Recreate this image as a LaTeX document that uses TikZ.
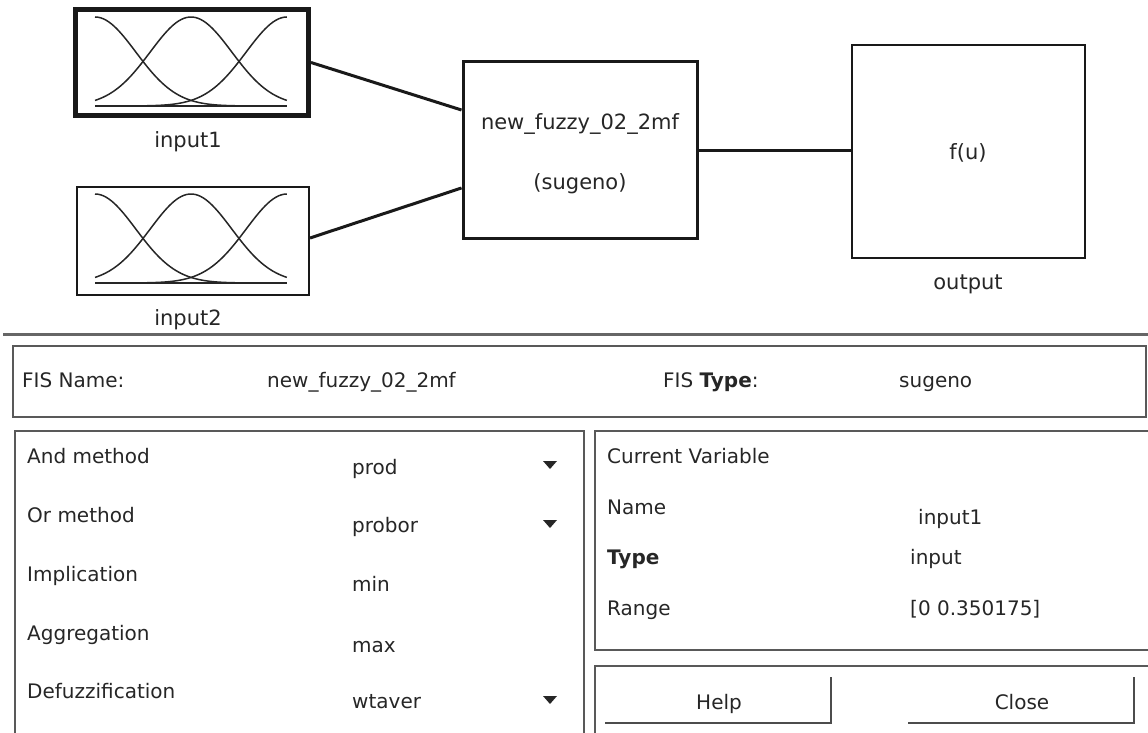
\documentclass[tikz,border=0pt]{standalone}
\usepackage{fontspec}
\setmainfont{DejaVu Sans}
\begin{document}
\begin{tikzpicture}[x=1pt,y=-1pt,
  txt/.style={font=\fontsize{20}{23}\selectfont, text=black!85, inner sep=0, anchor=base west, yshift=-7.5pt},
  ctxt/.style={font=\fontsize{20}{23}\selectfont, text=black!85, inner sep=0, anchor=base, yshift=-7.5pt},
  ttxt/.style={font=\fontsize{21}{24}\selectfont, text=black!85, inner sep=0, anchor=base, yshift=-7.5pt},
  blk/.style={draw=black!90, rectangle, inner sep=0, fill=white},
  wire/.style={draw=black!90, line width=3pt},
  mf/.style={draw=black!85, line width=1.5pt},
  panel/.style={draw=black!65, line width=2pt},
  arr/.style={fill=black!85},
]
\useasboundingbox (0,0) rectangle (1148,733);

% ---- top diagram blocks ----
\node[blk, line width=5pt, minimum width=233, minimum height=106] (in1) at (192,62.5) {};
\node[blk, line width=2pt, minimum width=232, minimum height=108] (in2) at (193,241) {};
\node[blk, line width=3pt, minimum width=234, minimum height=176] (fis) at (580,150) {};
\node[blk, line width=2.5pt, minimum width=233, minimum height=213] (out) at (968.5,151.5) {};

% membership functions
\foreach \yo/\yb in {17/106, 194/283}{
  \draw[mf] (95,\yb) -- (287,\yb);
  \draw[mf] plot[domain=0:1, samples=70, smooth] ({95+192*\x}, {\yb-(\yb-\yo)*exp(-(\x*\x)/(2*0.2125*0.2125))});
  \draw[mf] plot[domain=0:1, samples=70, smooth] ({95+192*\x}, {\yb-(\yb-\yo)*exp(-((\x-0.5)*(\x-0.5))/(2*0.2125*0.2125))});
  \draw[mf] plot[domain=0:1, samples=70, smooth] ({95+192*\x}, {\yb-(\yb-\yo)*exp(-((\x-1)*(\x-1))/(2*0.2125*0.2125))});
}

\node[ttxt] (l1) at (188,140) {input1};
\node[ttxt] (l2) at (188,318) {input2};
\node[ttxt] (f1) at (580,122) {new\_fuzzy\_02\_2mf};
\node[ttxt] (f2) at (580,182) {(sugeno)};
\node[ttxt] (fu) at (968,152) {f(u)};
\node[ttxt] (lo) at (968,282) {output};

% connectors
\draw[wire] (in1.east) -- ([yshift=40pt]fis.west);
\draw[wire] ([yshift=3pt]in2.east) -- ([yshift=-38pt]fis.west);
\draw[wire] (fis.east) -- ([yshift=1.5pt]out.west);

% ---- separator ----
\draw[draw=black!60, line width=3pt] (3,334) -- (1148,334);

% ---- FIS name panel ----
\draw[panel] (13,346) rectangle (1146,417);
\node[txt] (n1) at (22,380) {FIS Name:};
\node[txt] (n2) at (267,380) {new\_fuzzy\_02\_2mf};
\node[txt] (n3) at (663,380) {FIS \textbf{Type}:};
\node[txt] (n4) at (899,380) {sugeno};

% ---- left panel ----
\draw[panel] (15,740) -- (15,431) -- (584,431) -- (584,740);
\node[txt] (a1) at (27,456) {And method};
\node[txt] (a2) at (352,467) {prod};
\node[txt] (b1) at (27,515) {Or method};
\node[txt] (b2) at (352,525) {probor};
\node[txt] (c1) at (27,574) {Implication};
\node[txt] (c2) at (352,584) {min};
\node[txt] (d1) at (27,633) {Aggregation};
\node[txt] (d2) at (352,645) {max};
\node[txt] (e1) at (27,691) {Defuzzification};
\node[txt] (e2) at (352,701) {wtaver};
\fill[arr] (543,461) -- (557,461) -- (550,469) -- cycle;
\fill[arr] (543,520) -- (557,520) -- (550,528) -- cycle;
\fill[arr] (543,696) -- (557,696) -- (550,704) -- cycle;

% ---- right panel ----
\draw[panel] (1152,431) -- (595,431) -- (595,650) -- (1152,650);
\node[txt] (v0) at (607,456) {Current Variable};
\node[txt] (v1) at (607,507) {Name};
\node[txt] (v2) at (918,517) {input1};
\node[txt] (v3) at (607,557) {\textbf{Type}};
\node[txt] (v4) at (910,557) {input};
\node[txt] (v5) at (607,608) {Range};
\node[txt] (v6) at (910,608) {[0 0.350175]};

% ---- buttons panel ----
\draw[panel] (1152,666) -- (595,666) -- (595,740);
\draw[draw=black!70, line width=2pt] (605,723) -- (831,723) -- (831,677);
\draw[draw=black!70, line width=2pt] (908,723) -- (1134,723) -- (1134,677);
\node[ctxt] (h) at (719,702) {Help};
\node[ctxt] (c) at (1022,702) {Close};
\end{tikzpicture}
\end{document}
